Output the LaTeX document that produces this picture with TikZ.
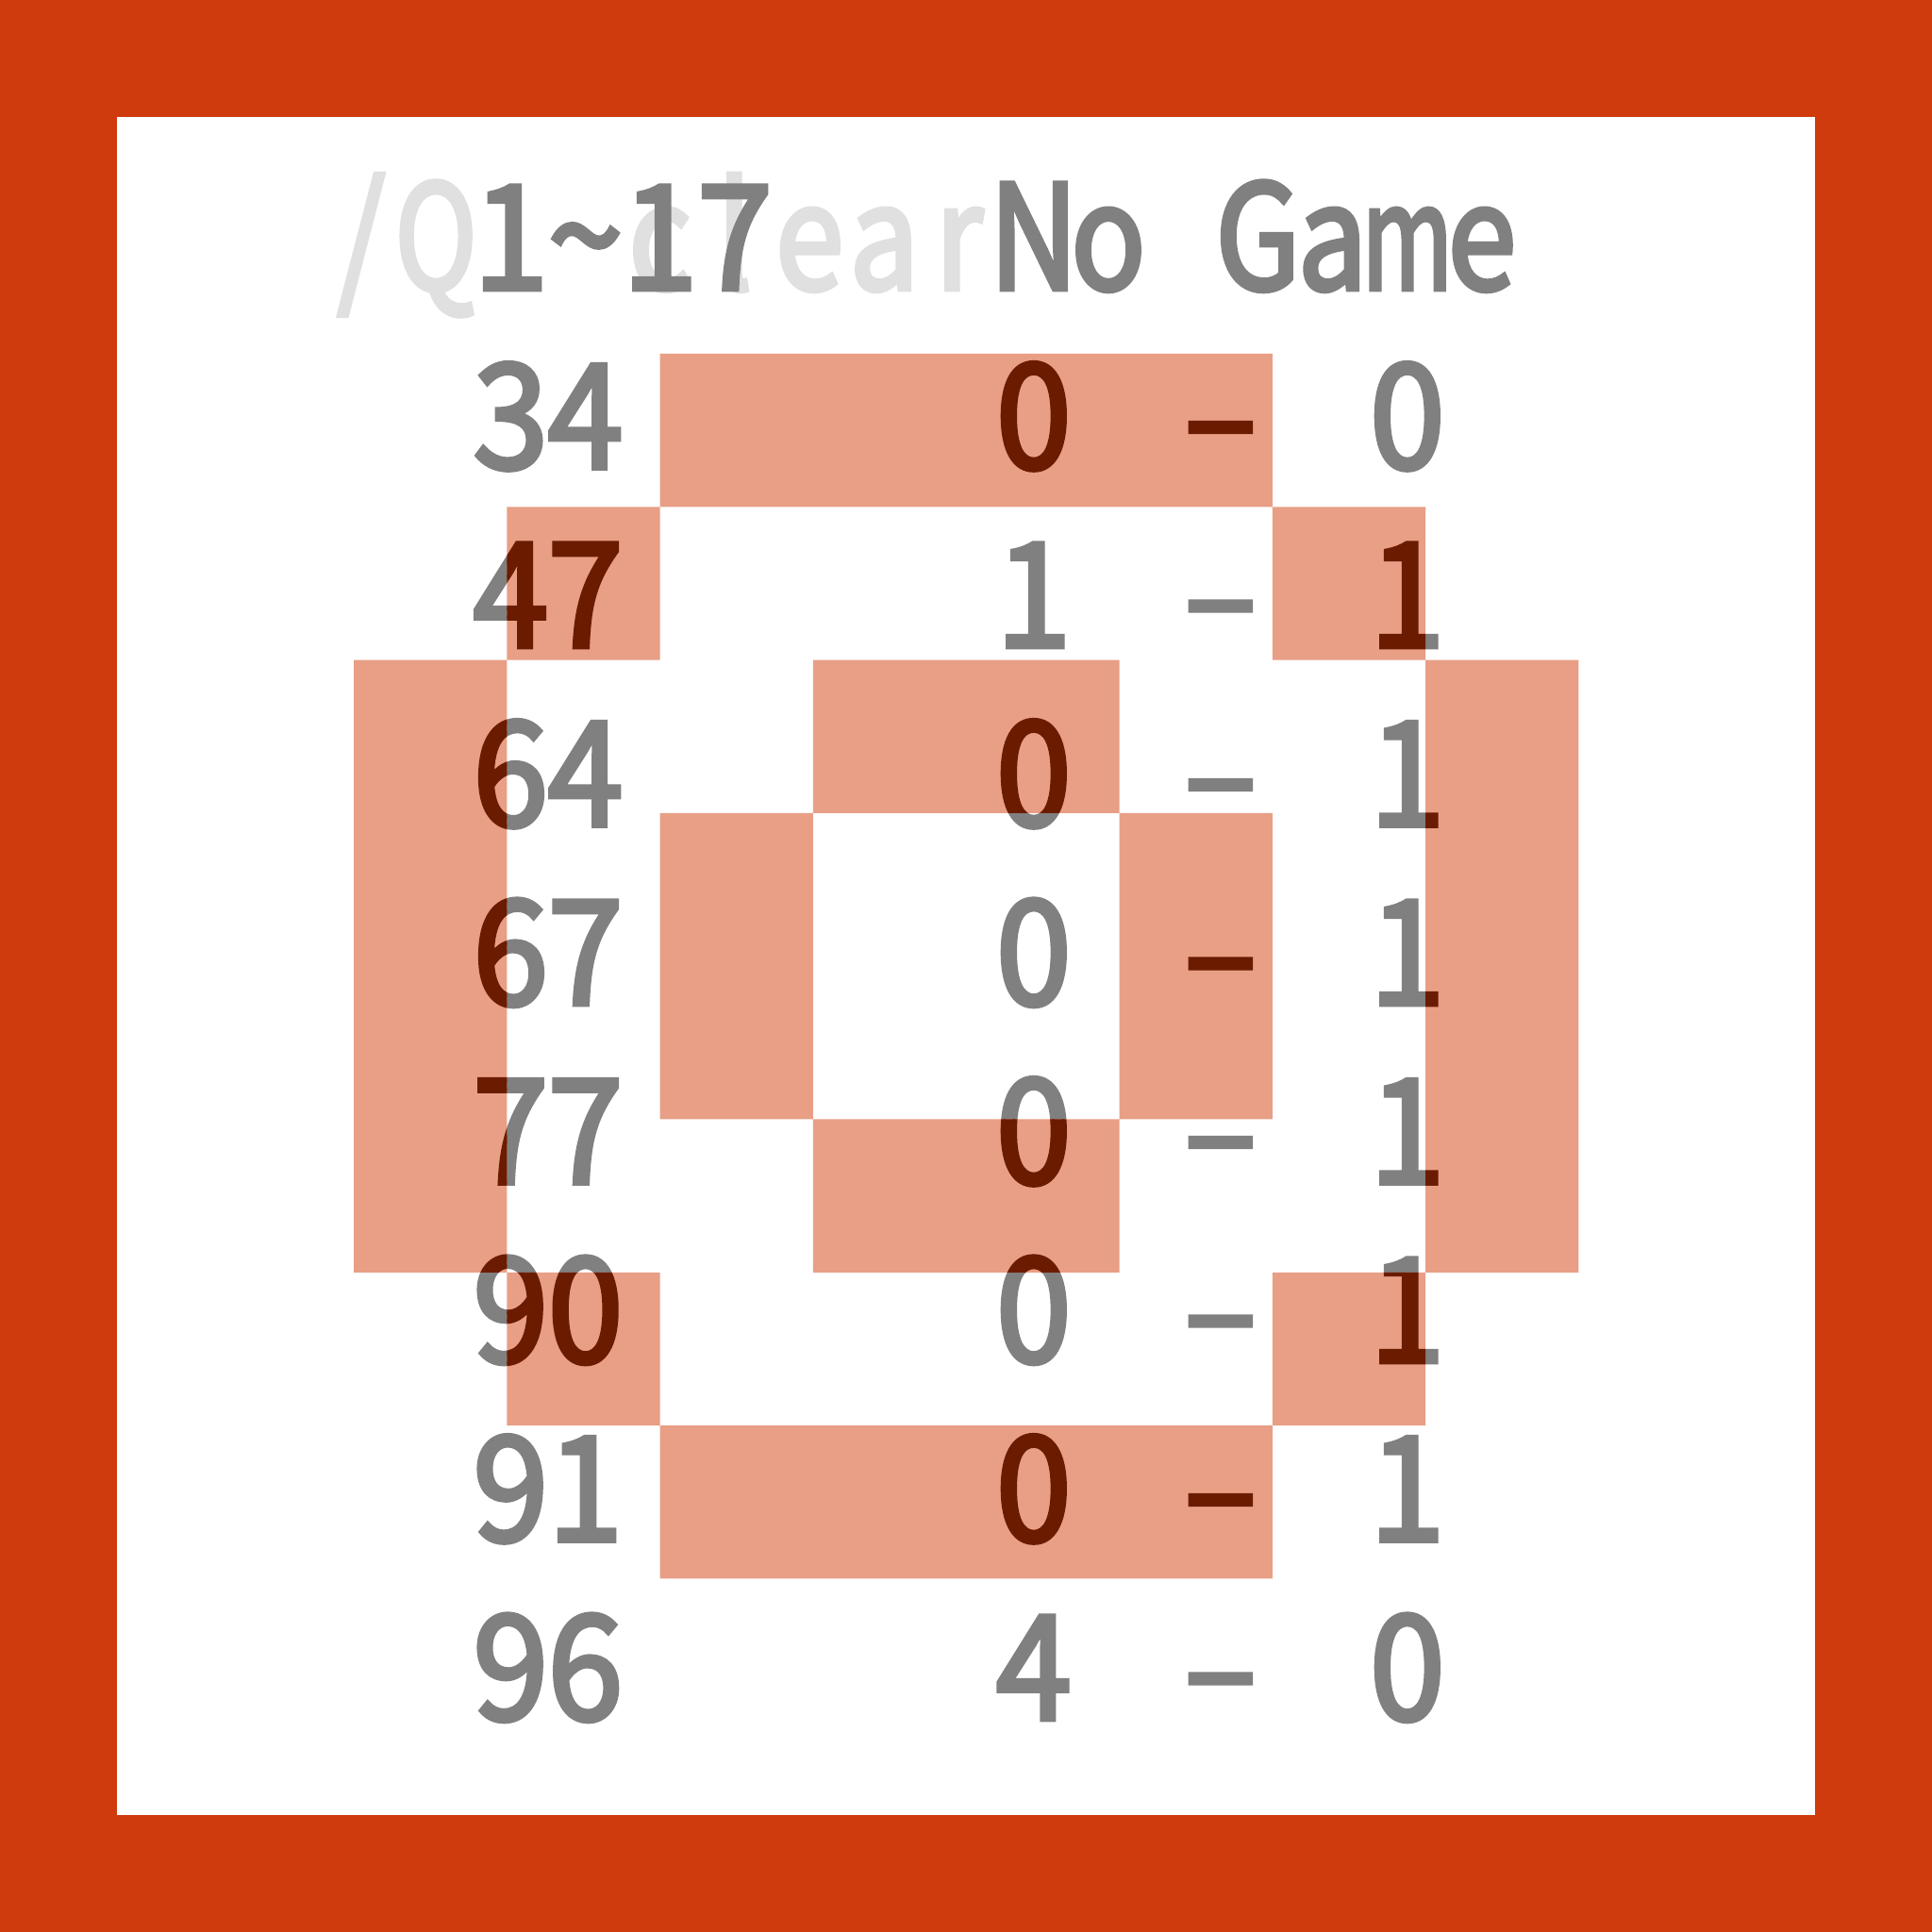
\documentclass[tikz,border=0pt]{standalone}
\usepackage{fontspec}
\setmainfont[FakeBold=3,FakeStretch=0.93]{Noto Sans CJK JP}
\newfontfamily\narrowfont[FakeBold=3,FakeStretch=0.84]{Noto Sans CJK JP}

\definecolor{frame}{RGB}{208,59,14}
\definecolor{bit}{RGB}{232,159,134}
\definecolor{ink}{RGB}{128,128,128}
\definecolor{inkdark}{RGB}{107,27,0}
\definecolor{inkfaint}{RGB}{224,224,224}

\tikzset{
	glyph/.style={anchor=base, inner sep=0pt, font=\fontsize{44}{44}\selectfont},
	letter/.style={glyph, font=\narrowfont\fontsize{44}{44}\selectfont},
	textgrid/.style={shift={(0.049,-0.419)}, x=0.792cm, y=-1.895cm}
}

% cells of the ring picture, in grid units
\newcommand{\ringcells}{(2,0) rectangle (6,1)
	(1,1) rectangle (2,2) (6,1) rectangle (7,2)
	(0,2) rectangle (1,6) (7,2) rectangle (8,6)
	(3,2) rectangle (5,3) (3,5) rectangle (5,6)
	(2,3) rectangle (3,5) (5,3) rectangle (6,5)
	(1,6) rectangle (2,7) (6,6) rectangle (7,7)
	(2,7) rectangle (6,8)}

% score rows, #1 = name prefix, #2 = colour
\newcommand{\scorerows}[2]{%
	\foreach \ta/\tb/\home/\away [count=\r] in {3/4/0/0,4/7/1/1,6/4/0/1,6/7/0/1,7/7/0/1,9/0/0/1,9/1/0/1,9/6/4/0}{
		\node[glyph, text=#2] (#1ta\r) at (2,\r) {\ta};
		\node[glyph, text=#2] (#1tb\r) at (3,\r) {\tb};
		\node[glyph, text=#2] (#1home\r) at (9,\r) {\home};
		\node[glyph, text=#2] (#1dash\r) at (11.5,\r) {–};
		\node[glyph, text=#2] (#1away\r) at (14,\r) {\away};
	}}

\begin{document}
\begin{tikzpicture}
		%frame
		\useasboundingbox (0,0) rectangle (20.48,20.48);
		\fill[frame] (0,0) rectangle (20.48,20.48);
		\fill[white] (1.24,1.24) rectangle (19.24,19.24);
		
		\begin{scope}[shift={(3.75,16.73)}, x=1.623cm, y=-1.623cm]
			%header
			\begin{scope}[textgrid]
				\node[letter, text=inkfaint] (hslash) at (0,0) {/};
				\node[letter, text=inkfaint, xscale=0.9] (hq) at (1,0) {Q};
				\node[letter, text=inkfaint] (hc) at (4,0) {c};
				\node[letter, text=inkfaint] (hl) at (5,0) {l};
				\node[letter, text=inkfaint] (he) at (6,0) {e};
				\node[letter, text=inkfaint] (ha) at (7,0) {a};
				\node[letter, text=inkfaint] (hr) at (8,0) {r};
				
				\node[glyph, text=ink] (qa) at (2,0) {1};
				\node[glyph, text=ink] (qb) at (3,0) {\textasciitilde};
				\node[glyph, text=ink] (qc) at (4,0) {1};
				\node[glyph, text=ink] (qd) at (5,0) {7};
				
				\node[letter, text=ink] (gn) at (9,0) {N};
				\node[letter, text=ink] (go) at (10,0) {o};
				\node[letter, text=ink] (gg) at (12,0) {G};
				\node[letter, text=ink] (ga) at (13,0) {a};
				\node[letter, text=ink, xscale=0.8] (gm) at (14,0) {m};
				\node[letter, text=ink] (ge) at (15,0) {e};
				
				%rows
				\scorerows{g}{ink}
			\end{scope}
			
			%bits
			\fill[bit] \ringcells;
			
			%rows seen through the bits
			\clip \ringcells;
			\begin{scope}[textgrid]
				\scorerows{d}{inkdark}
			\end{scope}
		\end{scope}
\end{tikzpicture}
\end{document}
